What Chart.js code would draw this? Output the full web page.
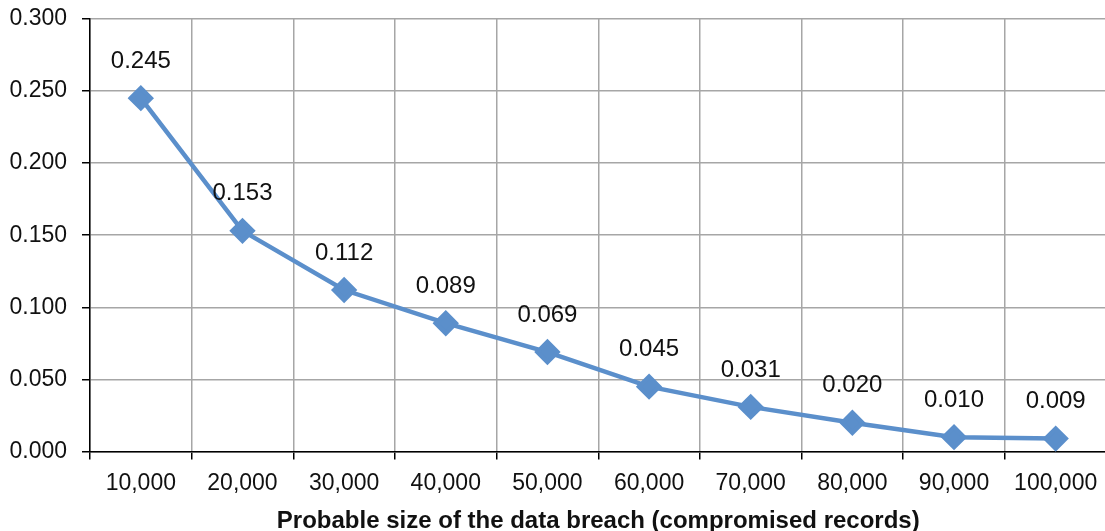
<!DOCTYPE html>
<html lang="en">
<head>
  <meta charset="UTF-8" />
  <title>Probability by breach size</title>
  <script src="https://cdn.jsdelivr.net/npm/chart.js"></script>
  <style>
    html, body {
      margin: 0;
      padding: 0;
      background: #fff;
      overflow: hidden;
    }
    .wrap {
      position: relative;
      width: 1121px;
      height: 546px;
      margin-top: -10px;
    }
  </style>
</head>
<body>
  <div class="wrap">
    <canvas id="breachChart"></canvas>
  </div>

  <script>
    const categories = ['10,000', '20,000', '30,000', '40,000', '50,000',
                        '60,000', '70,000', '80,000', '90,000', '100,000'];
    const probabilities = [0.245, 0.153, 0.112, 0.089, 0.069, 0.045, 0.031, 0.020, 0.010, 0.009];
    const yTicks = [0, 0.05, 0.10, 0.15, 0.20, 0.25, 0.30];

    const lineBlue = '#5b8fcb';
    const gridGray = '#a6a6a6';
    const fontFamily = '"Liberation Sans", Arial, sans-serif';

    // draws the value above each marker
    const valueLabels = {
      id: 'valueLabels',
      afterDatasetsDraw(chart) {
        const ctx = chart.ctx;
        const meta = chart.getDatasetMeta(0);
        ctx.save();
        ctx.font = '24px ' + fontFamily;
        ctx.fillStyle = '#111';
        ctx.textAlign = 'center';
        ctx.textBaseline = 'middle';
        meta.data.forEach((pt, i) => {
          ctx.fillText(probabilities[i].toFixed(3), pt.x, pt.y - 37);
        });
        ctx.restore();
      }
    };

    new Chart(document.getElementById('breachChart'), {
      type: 'line',
      data: {
        labels: categories,
        datasets: [{
          data: probabilities,
          borderColor: lineBlue,
          backgroundColor: lineBlue,
          borderWidth: 4.5,
          tension: 0,
          pointStyle: 'rectRot',
          pointRadius: 10,
          pointHoverRadius: 10,
          pointBackgroundColor: lineBlue,
          pointBorderColor: lineBlue,
          clip: false
        }]
      },
      options: {
        responsive: true,
        maintainAspectRatio: false,
        animation: false,
        layout: {
          padding: { left: 0, right: 2, top: 6, bottom: 0 }
        },
        plugins: {
          legend: { display: false },
          tooltip: { enabled: false }
        },
        scales: {
          x: {
            offset: true,
            grid: {
              offset: true,
              color: gridGray,
              lineWidth: 1.5,
              tickColor: '#000',
              tickLength: 8
            },
            border: { color: '#000', width: 1.5 },
            ticks: {
              color: '#111',
              padding: 10,
              maxRotation: 0,
              font: { family: fontFamily, size: 23 }
            },
            title: {
              display: true,
              text: 'Probable size of the data breach (compromised records)',
              color: '#111',
              padding: { top: 0, bottom: 0 },
              font: { family: fontFamily, size: 24, weight: 'bold' }
            }
          },
          y: {
            min: 0,
            max: 0.3,
            afterBuildTicks(scale) {
              scale.ticks = yTicks.map(v => ({ value: v }));
            },
            afterFit(scale) {
              scale.width = 90;
            },
            grid: {
              color: gridGray,
              lineWidth: 1.5,
              tickColor: '#000',
              tickLength: 8
            },
            border: { color: '#000', width: 1.5 },
            ticks: {
              color: '#111',
              padding: 15,
              font: { family: fontFamily, size: 23 },
              callback: v => Number(v).toFixed(3)
            }
          }
        }
      },
      plugins: [valueLabels]
    });
  </script>
</body>
</html>
